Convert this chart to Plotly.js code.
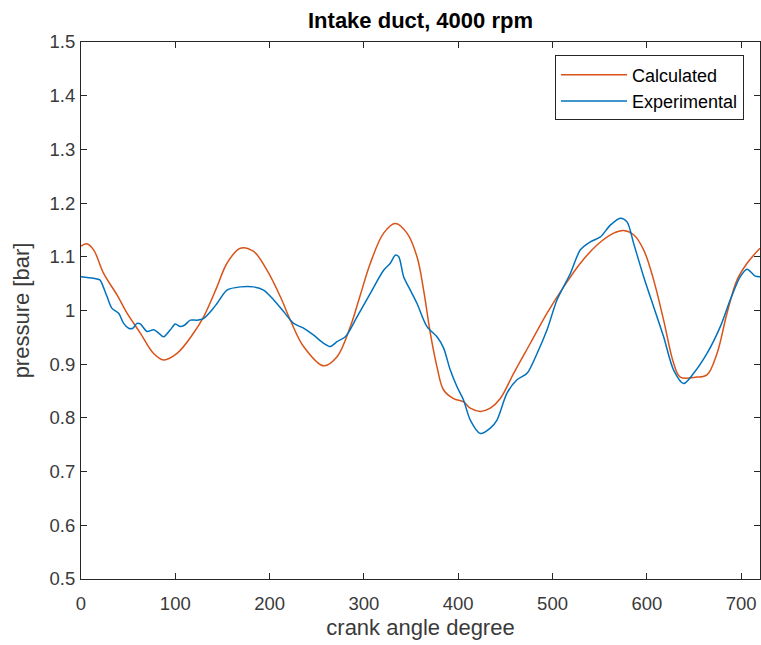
<!DOCTYPE html>
<html><head><meta charset="utf-8">
<script src="https://cdn.plot.ly/plotly-3.0.1.min.js"></script>
<style>html,body{margin:0;padding:0;overflow:hidden;background:#fff}</style>
</head><body><div id="chart" style="width:761px;height:645px"></div>
<script>
const chartTitle = "Intake duct, 4000 rpm";
const xLabel = "crank angle degree";
const yLabel = "pressure [bar]";
const seriesNames = ["Calculated", "Experimental"];

const calcAngle = [0, 6.4, 13.4, 24, 38.2, 48.8, 62.9, 77, 87.6, 101.8, 119.4, 130, 144.2, 154.8, 168.9, 183, 197.2, 211.3, 222, 236, 257.3, 271.5, 285.6, 296.2, 306.8, 320.9, 333.3, 345.7, 356.3, 363.3, 370.4, 377.5, 384.5, 395.1, 405.7, 412.8, 423.4, 434, 444.6, 458.8, 476.5, 494.2, 511.8, 529.5, 547.2, 564.8, 575.4, 586, 596.6, 607.2, 617.8, 628.4, 635.5, 653.2, 663.8, 674.4, 685, 695.7, 706.3, 720];
const calcPressure = [1.120, 1.124, 1.113, 1.069, 1.029, 0.995, 0.958, 0.920, 0.908, 0.920, 0.958, 0.988, 1.044, 1.088, 1.116, 1.110, 1.075, 1.026, 0.982, 0.933, 0.897, 0.914, 0.970, 1.029, 1.088, 1.144, 1.162, 1.144, 1.100, 1.038, 0.958, 0.895, 0.852, 0.836, 0.830, 0.818, 0.812, 0.818, 0.836, 0.883, 0.939, 0.995, 1.044, 1.088, 1.122, 1.144, 1.149, 1.141, 1.113, 1.057, 0.982, 0.902, 0.876, 0.876, 0.880, 0.920, 0.995, 1.057, 1.088, 1.116];

const expAngle = [0, 13, 20, 22, 27.6, 32.9, 39.9, 45.2, 50.5, 55, 59.4, 62.9, 70, 77, 82.3, 87.6, 94.7, 100, 105.3, 110, 115.9, 123, 130, 137, 144.2, 154.8, 169, 183, 193.6, 204.2, 214.8, 225.5, 236, 246.7, 257.3, 264.4, 271.5, 280.3, 292.7, 306.8, 320.9, 328, 333.3, 336.9, 342.1, 349.2, 356.3, 366.9, 377.5, 384.5, 391.6, 398.7, 405.7, 412.8, 423.4, 434, 441.1, 451.7, 462.3, 473, 483.6, 494.2, 504.8, 518.9, 529.5, 540.1, 550.7, 561.3, 571.9, 579, 586, 596.6, 607.2, 617.8, 628.4, 639, 649.6, 663.8, 677.9, 688.5, 699.1, 706.3, 715, 720];
const expPressure = [1.063, 1.060, 1.057, 1.051, 1.026, 1.004, 0.995, 0.976, 0.967, 0.967, 0.976, 0.975, 0.961, 0.964, 0.958, 0.951, 0.964, 0.975, 0.970, 0.973, 0.982, 0.982, 0.985, 0.997, 1.013, 1.038, 1.044, 1.044, 1.038, 1.020, 0.998, 0.976, 0.967, 0.954, 0.939, 0.933, 0.942, 0.951, 0.988, 1.032, 1.075, 1.088, 1.103, 1.100, 1.063, 1.038, 1.013, 0.970, 0.951, 0.930, 0.889, 0.858, 0.833, 0.796, 0.771, 0.781, 0.796, 0.846, 0.871, 0.883, 0.920, 0.964, 1.020, 1.069, 1.113, 1.128, 1.137, 1.159, 1.172, 1.165, 1.125, 1.063, 1.007, 0.951, 0.889, 0.864, 0.883, 0.920, 0.970, 1.020, 1.063, 1.077, 1.064, 1.063];

const xTicks = [0, 100, 200, 300, 400, 500, 600, 700];
const yTicks = [0.5, 0.6, 0.7, 0.8, 0.9, 1, 1.1, 1.2, 1.3, 1.4, 1.5];
const yTickText = ["0.5", "0.6", "0.7", "0.8", "0.9", "1", "1.1", "1.2", "1.3", "1.4", "1.5"];

const FONT = "Liberation Sans, Arial, sans-serif";
const AX = "#262626";

const traces = [
  {x: calcAngle, y: calcPressure, name: seriesNames[0], type: "scatter", mode: "lines",
   line: {color: "#D95319", width: 1.5, shape: "spline", smoothing: 1}},
  {x: expAngle, y: expPressure, name: seriesNames[1], type: "scatter", mode: "lines",
   line: {color: "#0072BD", width: 1.5, shape: "spline", smoothing: 0.8}}
];

const axisCommon = {
  showline: true, linecolor: AX, linewidth: 1, mirror: "ticks",
  ticks: "inside", ticklen: 6, tickcolor: AX, tickwidth: 1,
  showgrid: false, zeroline: false,
  tickfont: {family: FONT, size: 18.5, color: "#3a3a3a"}
};

const layout = {
  width: 761, height: 645,
  margin: {l: 81, r: 1, t: 42, b: 66},
  paper_bgcolor: "#fff", plot_bgcolor: "#fff",
  font: {family: FONT, color: AX},
  title: {text: "<b>" + chartTitle + "</b>", font: {family: FONT, size: 22, color: "#000"},
          xref: "paper", x: 0.5, xanchor: "center", yref: "container", y: 1 - 20.5/645, yanchor: "middle"},
  xaxis: Object.assign({}, axisCommon, {range: [0, 720], tickvals: xTicks, ticklabelstandoff: 8,
          title: {text: xLabel, font: {family: FONT, size: 22, color: "#3a3a3a"}, standoff: 6}}),
  yaxis: Object.assign({}, axisCommon, {range: [0.5, 1.5], tickvals: yTicks, ticktext: yTickText, ticklabelstandoff: 1,
          title: {text: yLabel, font: {family: FONT, size: 22, color: "#3a3a3a"}, standoff: 13}}),
  showlegend: true,
  legend: {x: 0.9765, xanchor: "right", y: 0.975, yanchor: "top",
           bgcolor: "#fff", bordercolor: AX, borderwidth: 1,
           font: {family: FONT, size: 18, color: "#000"}, itemwidth: 66, tracegroupgap: 0}
};

Plotly.newPlot("chart", traces, layout, {displayModeBar: false, staticPlot: true});
</script></body></html>
